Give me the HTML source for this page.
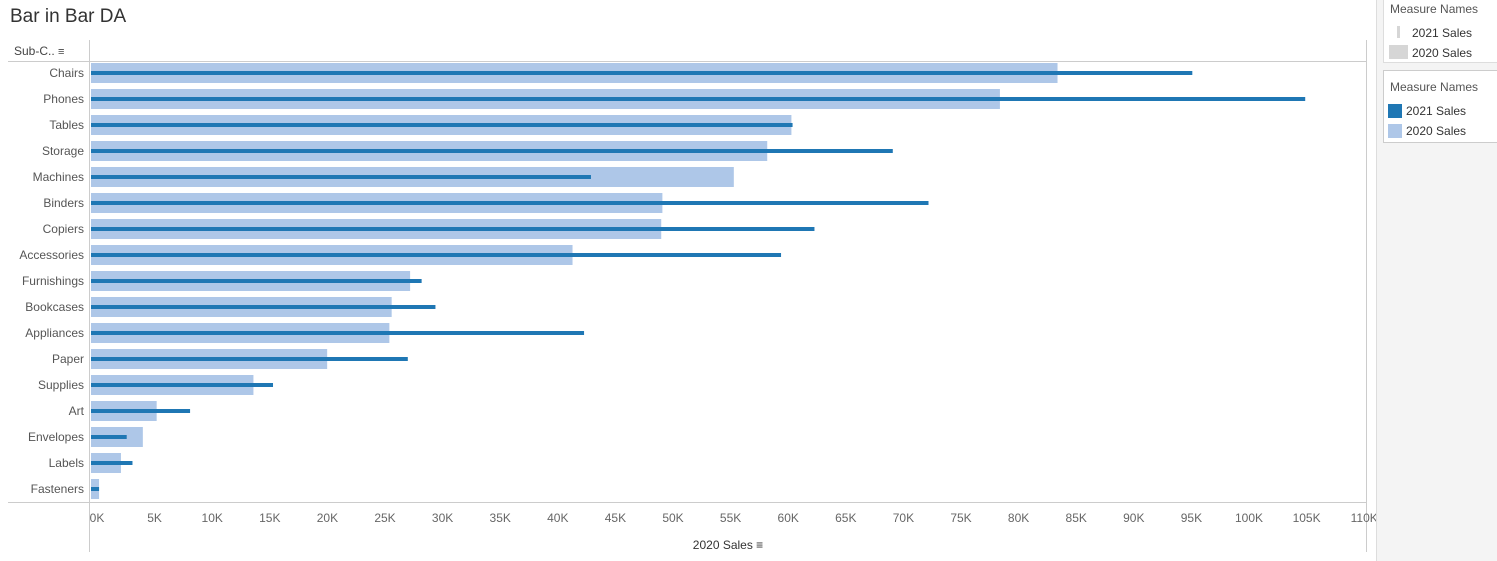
<!DOCTYPE html>
<html><head><meta charset="utf-8"><style>
body{margin:0;width:1497px;height:561px;background:#fff;font-family:"Liberation Sans",sans-serif;overflow:hidden;position:relative}
.t{position:absolute;white-space:nowrap}
</style></head><body>
<div class="t" style="left:10px;top:6px;font-size:19px;color:#333">Bar in Bar DA</div>
<div class="t" style="left:14px;top:44px;font-size:12px;color:#444">Sub-C.. <span style="font-size:11px">&#8801;</span></div>
<div style="position:absolute;left:1376px;top:0;width:121px;height:561px;background:#f4f4f4;border-left:1px solid #ddd"></div>
<div style="position:absolute;left:1383px;top:-1px;width:114px;height:62px;background:#fff;border:1px solid #ddd;border-right:none">
<div class="t" style="left:6px;top:2px;font-size:12px;color:#555">Measure Names</div>
<div style="position:absolute;left:13px;top:26px;width:3px;height:12px;background:#d6d6d6"></div>
<div class="t" style="left:28px;top:26px;font-size:12px;color:#333">2021 Sales</div>
<div style="position:absolute;left:5px;top:45px;width:19px;height:14px;background:#d6d6d6"></div>
<div class="t" style="left:28px;top:46px;font-size:12px;color:#333">2020 Sales</div>
</div>
<div style="position:absolute;left:1383px;top:70px;width:114px;height:71px;background:#fff;border:1px solid #ccc;border-right:none">
<div class="t" style="left:6px;top:9px;font-size:12px;color:#555">Measure Names</div>
<div style="position:absolute;left:4px;top:33px;width:14px;height:14px;background:#1f77b4"></div>
<div class="t" style="left:22px;top:33px;font-size:12px;color:#333">2021 Sales</div>
<div style="position:absolute;left:4px;top:53px;width:14px;height:14px;background:#aec7e8"></div>
<div class="t" style="left:22px;top:53px;font-size:12px;color:#333">2020 Sales</div>
</div>
<svg id="c" width="1376" height="561" style="position:absolute;left:0;top:0"></svg>
<script>
const categories=["Chairs","Phones","Tables","Storage","Machines","Binders","Copiers","Accessories","Furnishings","Bookcases","Appliances","Paper","Supplies","Art","Envelopes","Labels","Fasteners"];
const sales2020=[83.9,78.9,60.8,58.7,55.8,49.6,49.5,41.8,27.7,26.1,25.9,20.5,14.1,5.7,4.5,2.6,0.7];
const sales2021=[95.6,105.4,60.9,69.6,43.4,72.7,62.8,59.9,28.7,29.9,42.8,27.5,15.8,8.6,3.1,3.6,0.7];
const ticks=[0,5,10,15,20,25,30,35,40,45,50,55,60,65,70,75,80,85,90,95,100,105,110];
const svg=document.getElementById('c');const NS='http://www.w3.org/2000/svg';
const x=v=>91+v*11.52;const y=i=>73+i*26;
function mk(t,a,p){const e=document.createElementNS(NS,t);for(const k in a)e.setAttribute(k,a[k]);(p||svg).appendChild(e);return e;}
let l=mk('line',{x1:8,x2:1366,y1:61.5,y2:61.5,stroke:'#ccc'});
l=mk('line',{x1:89.5,x2:89.5,y1:40,y2:552,stroke:'#ccc'});
l=mk('line',{x1:8,x2:1366,y1:502.5,y2:502.5,stroke:'#ccc'});
l=mk('line',{x1:1366.5,x2:1366.5,y1:40,y2:552,stroke:'#ccc'});
categories.forEach((c,i)=>{
 let r=mk('rect',{x:x(0),y:y(i)-10,width:x(sales2020[i])-x(0),height:20,fill:'#aec7e8'});
 
 
 let d=mk('rect',{x:x(0),y:y(i)-2,width:x(sales2021[i])-x(0),height:4,fill:'#1f77b4'});
 
 
 let t=mk('text',{x:84,y:y(i)+4,'text-anchor':'end','font-size':12,fill:'#555'});t.textContent=c;
 
 
});
ticks.forEach(v=>{
 let t=mk('text',{x:x(v)+6,y:522,'text-anchor':'middle','font-size':12,fill:'#666'});t.textContent=v+'K';
 
 
});
let at=mk('text',{x:728,y:549,'text-anchor':'middle','font-size':12,fill:'#333'});at.textContent='2020 Sales ≡';


</script>
</body></html>
